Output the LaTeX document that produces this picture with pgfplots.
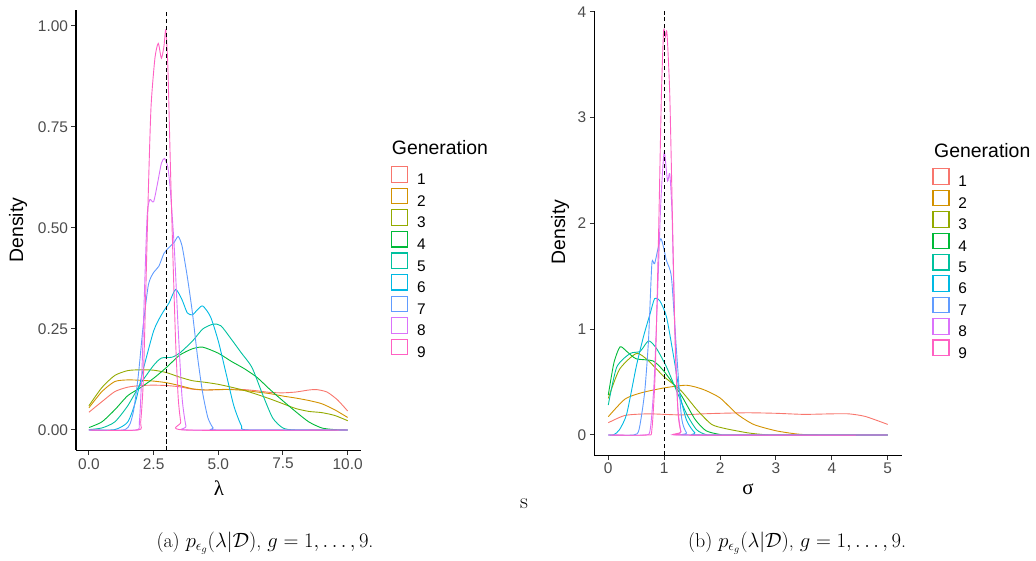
\documentclass[border=0pt]{standalone}
\usepackage{pgfplots}
\pgfplotsset{compat=1.18}
\usepackage{fontspec}
\setsansfont{Liberation Sans}
\newfontfamily\grk{Liberation Serif}

\definecolor{genA}{HTML}{F8766D}
\definecolor{genB}{HTML}{D39200}
\definecolor{genC}{HTML}{93AA00}
\definecolor{genD}{HTML}{00BA38}
\definecolor{genE}{HTML}{00C19F}
\definecolor{genF}{HTML}{00B9E3}
\definecolor{genG}{HTML}{619CFF}
\definecolor{genH}{HTML}{DB72FB}
\definecolor{genI}{HTML}{FF61C3}

\pgfplotsset{
  dens/.style={
    scale only axis,
    anchor=south west,
    axis lines*=left,
    axis line style={line width=1.1bp, black},
    tick align=outside,
    major tick length=4.5bp,
    tick style={line width=1bp, black!80},
    ticklabel style={font=\fontsize{15.5}{16}\sffamily, text=black!70},
    every axis plot/.append style={line width=0.9bp, no markers, smooth, tension=0.4},
    legend cell align=left,
    legend style={draw=none, fill=none, inner sep=0pt, outer sep=0pt,
      font=\fontsize{15.5}{16}\sffamily,
      nodes={inner sep=0pt, outer sep=0pt}},
    legend image code/.code={
      \draw[line width=1.2bp, fill=none] (0.5bp,-2bp) rectangle (16.5bp,13.5bp);
      \path[draw=none] (0bp,0bp) -- (26bp,0bp);},
  },
}

\begin{document}
\begin{tikzpicture}
\path[use as bounding box] (0bp,0bp) rectangle (1036bp,561bp);

% ---- (a) lambda ----
\begin{axis}[dens,
  at={(76bp,110.8bp)}, width=284.6bp, height=440.4bp,
  xmin=-0.5, xmax=10.5, ymin=-0.05, ymax=1.04,
  xtick={0,2.5,5,7.5,10}, xticklabels={0.0,2.5,5.0,7.5,10.0},
  ytick={0,0.25,0.5,0.75,1}, yticklabels={0.00,0.25,0.50,0.75,1.00},
  legend style={at={(1.1068,0.6453)}, anchor=north west, row sep=1.4bp},
]
\addplot[genA] coordinates {(0,0.044) (0.5,0.07) (1,0.095) (1.5,0.106) (2,0.11) (2.5,0.111) (3,0.11) (3.5,0.107) (4,0.101) (4.5,0.099) (5,0.1) (5.5,0.101) (6,0.1) (6.5,0.097) (7,0.093) (7.5,0.092) (8,0.094) (8.5,0.099) (8.8,0.1) (9.2,0.094) (9.6,0.075) (10,0.047)};
\addplot[genB] coordinates {(0,0.055) (0.5,0.095) (1,0.12) (1.5,0.124) (2,0.123) (2.5,0.121) (3,0.117) (3.5,0.11) (4,0.102) (4.5,0.099) (5,0.1) (5.5,0.1) (6,0.098) (6.5,0.094) (7,0.09) (7.5,0.084) (8,0.079) (8.5,0.073) (9,0.065) (9.5,0.05) (10,0.031)};
\addplot[genC] coordinates {(0,0.06) (0.5,0.105) (1,0.135) (1.5,0.147) (2,0.149) (2.5,0.148) (3,0.142) (3.5,0.131) (4,0.122) (4.5,0.118) (5,0.113) (5.5,0.106) (6,0.098) (6.5,0.088) (7,0.077) (7.5,0.065) (8,0.053) (8.5,0.046) (9,0.043) (9.5,0.036) (10,0.023)};
\addplot[genD] coordinates {(0,0.006) (0.5,0.02) (1,0.05) (1.5,0.085) (2,0.105) (2.5,0.128) (3,0.155) (3.5,0.185) (4,0.201) (4.4,0.205) (5,0.19) (5.5,0.17) (6,0.152) (6.5,0.13) (7,0.1) (7.5,0.072) (8,0.045) (8.5,0.02) (9,0.005) (9.5,0.001) (10,0)};
\addplot[genE] coordinates {(0,0.001) (0.5,0.005) (1,0.02) (1.5,0.06) (2,0.115) (2.5,0.16) (2.8,0.178) (3.2,0.18) (3.5,0.19) (4,0.22) (4.4,0.25) (4.8,0.262) (5.1,0.258) (5.5,0.225) (5.9,0.19) (6.3,0.155) (6.7,0.09) (7.1,0.03) (7.5,0.005) (8,0) (10,0)};
\addplot[genF] coordinates {(0,0) (1,0.001) (1.5,0.02) (1.8,0.07) (2.1,0.15) (2.5,0.245) (2.8,0.285) (3.1,0.315) (3.35,0.348) (3.6,0.322) (3.8,0.29) (4,0.285) (4.2,0.298) (4.4,0.307) (4.7,0.28) (5,0.22) (5.3,0.14) (5.6,0.06) (5.9,0.01) (6.2,0) (10,0)};
\addplot[genG] coordinates {(0,0) (1.4,0.001) (1.7,0.04) (1.9,0.13) (2.1,0.26) (2.3,0.36) (2.5,0.39) (2.7,0.405) (2.9,0.437) (3.1,0.452) (3.3,0.465) (3.45,0.479) (3.6,0.455) (3.8,0.38) (4,0.29) (4.2,0.18) (4.4,0.09) (4.6,0.03) (4.8,0.005) (5,0) (10,0)};
\addplot[genH] coordinates {(0,0) (1.8,0) (1.95,0.02) (2.05,0.15) (2.15,0.35) (2.25,0.53) (2.35,0.57) (2.5,0.565) (2.65,0.61) (2.8,0.66) (2.92,0.672) (3.05,0.65) (3.15,0.59) (3.3,0.45) (3.45,0.25) (3.6,0.08) (3.75,0.01) (3.9,0) (10,0)};
\addplot[genI] coordinates {(0,0) (1.9,0) (2.0,0.02) (2.1,0.12) (2.2,0.35) (2.3,0.6) (2.4,0.8) (2.55,0.92) (2.68,0.957) (2.8,0.92) (2.9,0.95) (2.97,0.99) (3.05,0.9) (3.15,0.65) (3.25,0.42) (3.35,0.22) (3.45,0.08) (3.55,0.02) (3.7,0) (10,0)};
\addplot[black, dashed, dash pattern=on 4bp off 3bp, forget plot] coordinates {(3,-0.05) (3,1.04)};
\legend{1,2,3,4,5,6,7,8,9}
\end{axis}

% ---- (b) sigma ----
\begin{axis}[dens,
  at={(594.3bp,105.9bp)}, width=307.4bp, height=444.4bp,
  xmin=-0.25, xmax=5.25, ymin=-0.19, ymax=4.01,
  xtick={0,1,2,3,4,5}, xticklabels={0,1,2,3,4,5},
  ytick={0,1,2,3,4}, yticklabels={0,1,2,3,4},
  legend style={at={(1.0996,0.6454)}, anchor=north west, row sep=1.2bp},
]
\addplot[genA] coordinates {(0,0.116) (0.3,0.185) (0.7,0.2) (1,0.195) (1.3,0.19) (1.7,0.2) (2,0.205) (2.5,0.21) (3,0.205) (3.5,0.195) (4,0.2) (4.3,0.2) (4.6,0.175) (5,0.1)};
\addplot[genB] coordinates {(0,0.173) (0.3,0.34) (0.6,0.4) (1,0.445) (1.4,0.47) (1.7,0.43) (2,0.35) (2.3,0.2) (2.6,0.1) (3,0.04) (3.4,0.008) (3.8,0) (5,0)};
\addplot[genC] coordinates {(0,0.346) (0.2,0.62) (0.5,0.77) (0.7,0.71) (1,0.55) (1.3,0.42) (1.6,0.23) (1.85,0.1) (2.1,0.06) (2.5,0.02) (2.8,0.003) (3,0) (5,0)};
\addplot[genD] coordinates {(0,0.377) (0.1,0.68) (0.21,0.833) (0.33,0.79) (0.5,0.72) (0.8,0.7) (1,0.6) (1.3,0.38) (1.55,0.15) (1.75,0.04) (2,0.005) (2.2,0) (5,0)};
\addplot[genE] coordinates {(0,0.283) (0.15,0.64) (0.39,0.77) (0.57,0.79) (0.72,0.89) (0.86,0.82) (1.04,0.645) (1.22,0.42) (1.4,0.2) (1.58,0.05) (1.76,0.002) (2,0) (5,0)};
\addplot[genF] coordinates {(0,0) (0.1,0.003) (0.2,0.05) (0.33,0.2) (0.5,0.645) (0.63,0.93) (0.75,1.15) (0.83,1.29) (0.92,1.27) (1.04,1.12) (1.16,0.77) (1.28,0.39) (1.4,0.14) (1.55,0.02) (1.7,0) (5,0)};
\addplot[genG] coordinates {(0,0) (0.45,0) (0.55,0.05) (0.65,0.4) (0.72,0.9) (0.78,1.62) (0.83,1.62) (0.94,1.855) (1.04,1.65) (1.13,1.49) (1.22,0.8) (1.31,0.17) (1.4,0.02) (1.5,0) (5,0)};
\addplot[genH] coordinates {(0,0) (0.65,0) (0.75,0.05) (0.82,0.5) (0.88,1.3) (0.94,2.2) (1.0,2.67) (1.06,2.4) (1.1,2.47) (1.14,2.1) (1.18,1.2) (1.24,0.3) (1.3,0.03) (1.36,0) (5,0)};
\addplot[genI] coordinates {(0,0) (0.7,0) (0.78,0.05) (0.84,0.6) (0.9,1.9) (0.95,3.2) (0.99,3.82) (1.02,3.76) (1.05,3.8) (1.1,3.22) (1.15,2.0) (1.2,0.8) (1.25,0.2) (1.3,0.03) (1.35,0) (5,0)};
\addplot[black, dashed, dash pattern=on 4bp off 3bp, forget plot] coordinates {(1,-0.19) (1,4.01)};
\legend{1,2,3,4,5,6,7,8,9}
\end{axis}

% titles and labels
\node[anchor=base west, inner sep=0pt, font=\fontsize{19.5}{20}\sffamily] at (391.7bp,406.5bp) {Generation};
\node[anchor=base west, inner sep=0pt, font=\fontsize{19.5}{20}\sffamily] at (934bp,403.5bp) {Generation};
\node[rotate=90, font=\fontsize{19.5}{20}\sffamily] at (18bp,331bp) {Density};
\node[rotate=90, font=\fontsize{19.5}{20}\sffamily] at (560bp,329bp) {Density};
\node[font=\fontsize{21}{22}\grk] at (219bp,73bp) {λ};
\node[font=\fontsize{21}{22}\grk] at (748bp,72bp) {σ};
\node[font=\fontsize{22}{24}\selectfont] at (524bp,57bp) {s};
\node[font=\fontsize{20}{22}\selectfont] at (265bp,18bp) {(a) $p_{\epsilon_g}(\lambda|\mathcal{D})$, $g=1,\ldots,9$.};
\node[font=\fontsize{20}{22}\selectfont] at (797bp,18bp) {(b) $p_{\epsilon_g}(\lambda|\mathcal{D})$, $g=1,\ldots,9$.};
\end{tikzpicture}
\end{document}
